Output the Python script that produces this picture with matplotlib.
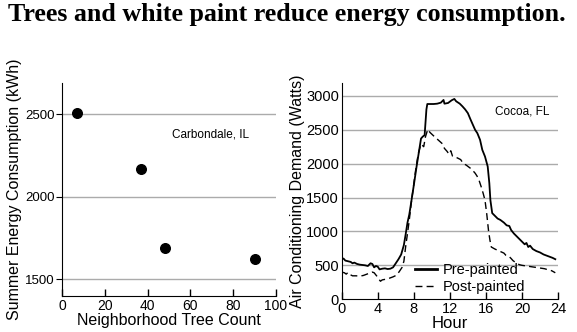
import matplotlib
matplotlib.use("Agg")
import matplotlib.pyplot as plt

# Carbondale, IL: tree count vs summer energy use
tree_count = [7, 37, 48, 90]
energy_kwh = [2510, 2170, 1690, 1625]

# Cocoa, FL: hourly air-conditioning demand before painting
pre_hours = [0.0, 0.2, 0.4, 0.7, 1.0, 1.2, 1.4, 1.7, 2.0, 2.3, 2.6, 2.9, 3.2, 3.4, 3.6, 3.8,
             4.0, 4.2, 4.5, 4.8, 5.1, 5.4, 5.7, 6.0, 6.3, 6.6, 6.9, 7.1, 7.3, 7.5, 7.7, 8.0,
             8.3, 8.6, 8.8, 9.0, 9.2, 9.4, 9.5, 9.8, 10.2, 10.6, 11.0, 11.3, 11.4, 11.8, 12.2,
             12.5, 12.7, 13.1, 13.4, 13.7, 14.0, 14.3, 14.8, 15.05, 15.35, 15.6, 15.9, 16.2,
             16.38, 16.5, 16.7, 17.0, 17.3, 17.6, 18.0, 18.3, 18.6, 18.8, 19.1, 19.4, 19.7,
             20.0, 20.3, 20.5, 20.7, 20.9, 21.2, 21.6, 22.0, 22.4, 22.8, 23.1, 23.4, 23.7]
pre_watts = [590, 600, 570, 560, 550, 530, 540, 520, 510, 505, 500, 490, 530, 520, 470, 490,
             480, 440, 450, 455, 445, 450, 470, 530, 590, 660, 800, 960, 1130, 1250, 1420, 1680,
             1950, 2200, 2370, 2400, 2420, 2800, 2880, 2880, 2880, 2885, 2900, 2940, 2885, 2895, 2935,
             2955, 2920, 2885, 2845, 2800, 2745, 2650, 2500, 2450, 2352, 2204, 2105, 1958,
             1712, 1460, 1270, 1230, 1190, 1170, 1130, 1090, 1080, 1020, 970, 930, 890,
             850, 810, 830, 770, 790, 740, 710, 690, 660, 640, 625, 610, 590]

# Cocoa, FL: hourly air-conditioning demand after painting
post_hours = [0.0, 0.3, 0.5, 0.7, 0.9, 1.2, 1.6, 2.0, 2.4, 2.8, 3.1, 3.4, 3.6, 3.9, 4.1, 4.3,
              4.5, 4.9, 5.3, 5.7, 6.1, 6.4, 6.7, 6.9, 7.1, 7.3, 7.5, 7.7, 7.9, 8.2, 8.5, 8.8,
              9.1, 9.3, 9.55, 9.8, 10.2, 10.7, 11.2, 11.4, 11.7, 11.9, 12.1, 12.3, 12.6, 12.9,
              13.2, 13.5, 13.8, 14.1, 14.4, 14.8, 15.0, 15.2, 15.5, 15.7, 15.9, 16.1, 16.3,
              16.45, 16.6, 17.0, 17.5, 18.0, 18.2, 18.5, 18.8, 19.0, 19.3, 19.7, 20.0, 20.5,
              21.0, 21.5, 22.0, 22.5, 23.0, 23.3, 23.7]
post_watts = [400, 390, 370, 395, 365, 345, 345, 340, 350, 370, 385, 400, 390, 340, 300, 265,
              285, 295, 310, 330, 355, 410, 470, 560, 780, 970, 1170, 1400, 1600, 1900, 2150, 2290,
              2250, 2400, 2505, 2460, 2410, 2350, 2290, 2225, 2180, 2140, 2190, 2110, 2100, 2080,
              2060, 2000, 1980, 1950, 1920, 1860, 1820, 1770, 1650, 1560, 1460, 1250, 1000,
              870, 770, 740, 710, 680, 650, 640, 600, 570, 540, 510, 500, 490,
              480, 470, 460, 450, 430, 420, 390]

sans = ["Liberation Sans", "DejaVu Sans"]
plt.rcParams["font.family"] = sans

fig = plt.figure(figsize=(5.77, 3.32), dpi=100)
fig.text(8 / 577, 1 - 15 / 332, "Trees and white paint reduce energy consumption.",
         family=["Liberation Serif", "DejaVu Serif"], fontweight="bold",
         fontsize=18.7, ha="left", va="center")

grid_color = "#ababab"

# ---- left panel: scatter ----
ax1 = fig.add_axes([62 / 577, 1 - 296 / 332, 214 / 577, 213 / 332])
ax1.scatter(tree_count, energy_kwh, s=48, color="black", zorder=3)
ax1.set_xlim(0, 100)
ax1.set_ylim(1400, 2690)
ax1.set_xticks([0, 20, 40, 60, 80, 100])
ax1.set_yticks([1500, 2000, 2500])
for y in [1500, 2000, 2500]:
    ax1.axhline(y, color=grid_color, lw=1.0, zorder=1)
ax1.spines[["top", "right"]].set_visible(False)
ax1.tick_params(axis="x", direction="in", length=5, width=1, labelsize=10, pad=2)
ax1.tick_params(axis="y", direction="out", length=4, width=0.8, labelsize=9.5, pad=1.5)
ax1.set_xlabel("Neighborhood Tree Count", fontsize=11.5, labelpad=0)
ax1.set_ylabel("Summer Energy Consumption (kWh)", fontsize=11.5, labelpad=2)
ax1.text(69.5, 2380, "Carbondale, IL", fontsize=8.5, ha="center", va="center")

# ---- right panel: hourly demand ----
ax2 = fig.add_axes([341.7 / 577, 1 - 299.2 / 332, 216.3 / 577, 216.2 / 332])
ax2.plot(pre_hours, pre_watts, color="black", lw=1.3, label="Pre-painted", zorder=3)
ax2.plot(post_hours, post_watts, color="black", lw=1.0, dashes=(5, 3),
         label="Post-painted", zorder=3)
ax2.set_xlim(0, 24)
ax2.set_ylim(0, 3190)
ax2.set_xticks(range(0, 25, 4))
ax2.set_yticks(range(0, 3001, 500))
for y in range(500, 3001, 500):
    ax2.axhline(y, color=grid_color, lw=1.0, zorder=1)
ax2.spines[["top", "right"]].set_visible(False)
ax2.tick_params(axis="x", direction="in", length=5, width=1, labelsize=10.5, pad=2)
ax2.tick_params(axis="y", direction="in", length=0, labelsize=10.5, pad=2)
ax2.set_xlabel("Hour", fontsize=12, labelpad=0)
ax2.set_ylabel("Air Conditioning Demand (Watts)", fontsize=11.5, labelpad=1)
ax2.text(20, 2770, "Cocoa, FL", fontsize=8.5, ha="center", va="center")

leg = ax2.legend(loc="lower left", bbox_to_anchor=(0.29, -0.025), frameon=False,
                 fontsize=10.5, handlelength=1.5, handletextpad=0.45,
                 labelspacing=0.2, borderpad=0.2)
leg.get_lines()[0].set_linewidth(2.0)

fig.savefig("out.png", dpi=100)
